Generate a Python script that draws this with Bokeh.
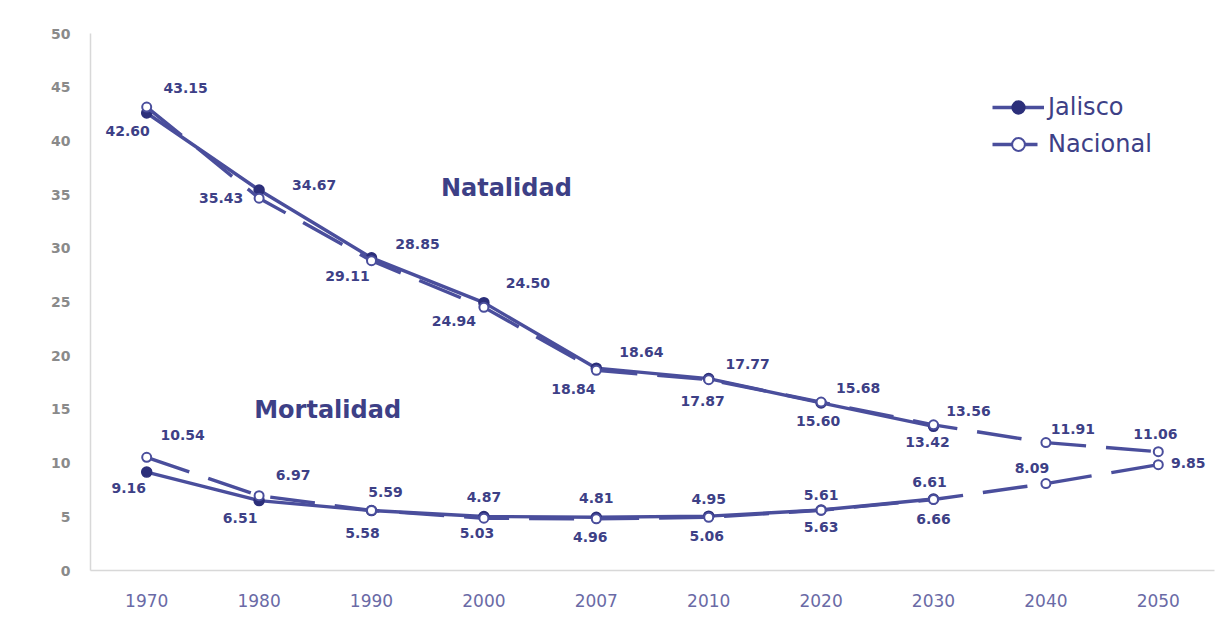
from bokeh.plotting import figure
from bokeh.models import ColumnDataSource, Label, Legend, LegendItem, Range1d, FactorRange
from bokeh.core.properties import value
from bokeh.embed import file_html
from bokeh.resources import INLINE

# ---------------- data ----------------
years = ["1970", "1980", "1990", "2000", "2007", "2010", "2020", "2030", "2040", "2050"]
nat_jalisco = [42.60, 35.43, 29.11, 24.94, 18.84, 17.87, 15.60, 13.42]
nat_nacional = [43.15, 34.67, 28.85, 24.50, 18.64, 17.77, 15.68, 13.56, 11.91, 11.06]
mort_jalisco = [9.16, 6.51, 5.58, 5.03, 4.96, 5.06, 5.63, 6.66]
mort_nacional = [10.54, 6.97, 5.59, 4.87, 4.81, 4.95, 5.61, 6.61, 8.09, 9.85]
series_names = ["Jalisco", "Nacional"]
region_labels = ["Natalidad", "Mortalidad"]

# label placement (screen px offsets)
nat_jal_off = [(-19, 18), (-38, 8), (-24, 18), (-30, 18), (-23, 21), (-6, 22), (-3, 18), (-6, 16)]
nat_nac_off = [(39, -19), (55, -13), (46, -17), (44, -24), (45, -18), (39, -16), (37, -14), (35, -14), (27, -14), (-3, -18)]
mort_jal_off = [(-18, 16), (-19, 17), (-9, 22), (-7, 17), (-6, 20), (-2, 20), (0, 17), (0, 20)]
mort_nac_off = [(36, -22), (34, -21), (14, -18), (0, -21), (0, -21), (0, -18), (0, -15), (-4, -18), (-14, -16), (30, -2)]

LINE = "#4a4e9c"
DARK = "#2c2f7a"
TXT = "#3d4086"

p = figure(x_range=FactorRange(*years), y_range=Range1d(0, 50),
           width=1217, height=618, output_backend="svg", toolbar_location=None,
           min_border_left=90, min_border_right=3, min_border_top=33, min_border_bottom=48)
p.outline_line_color = None
p.xgrid.grid_line_color = None
p.ygrid.grid_line_color = None
p.background_fill_color = "white"
p.border_fill_color = "white"

for ax in (p.xaxis[0], p.yaxis[0]):
    ax.axis_line_color = "#d8d8d8"
    ax.axis_line_width = 1.5
    ax.major_tick_line_color = None
    ax.minor_tick_line_color = None
p.yaxis.ticker = [0, 5, 10, 15, 20, 25, 30, 35, 40, 45, 50]
p.yaxis.major_label_text_font = "DejaVu Sans"
p.yaxis.major_label_text_font_style = "bold"
p.yaxis.major_label_text_font_size = "14px"
p.yaxis.major_label_text_color = "#8a8a8a"
p.yaxis.major_label_standoff = 14
p.xaxis.major_label_text_font = "DejaVu Sans"
p.xaxis.major_label_text_font_size = "17px"
p.xaxis.major_label_text_color = "#6a6aa6"
p.xaxis.major_label_standoff = 17


def draw(vals, dash, filled):
    src = ColumnDataSource(dict(x=years[:len(vals)], y=vals))
    ln = p.line("x", "y", source=src, line_color=LINE, line_width=3.4, line_dash=dash)
    if filled:
        mk = p.scatter("x", "y", source=src, size=10, marker="circle",
                       fill_color=DARK, line_color=DARK, line_width=1.5)
    else:
        mk = p.scatter("x", "y", source=src, size=9, marker="circle",
                       fill_color="white", line_color=LINE, line_width=2)
    return ln, mk


def labels(vals, offs):
    src = ColumnDataSource(dict(x=years[:len(vals)], y=vals,
                                t=["%.2f" % v for v in vals],
                                xo=[o[0] for o in offs], yo=[o[1] for o in offs]))
    p.text("x", "y", text="t", source=src, x_offset="xo", y_offset="yo",
           text_font=value("DejaVu Sans"), text_font_style="bold", text_font_size="14px",
           text_color=TXT, text_align="center", text_baseline="middle")


j1 = draw(nat_jalisco, "solid", True)
j2 = draw(mort_jalisco, "solid", True)
n1 = draw(nat_nacional, "45 20", False)
n2 = draw(mort_nacional, "45 20", False)

labels(nat_jalisco, nat_jal_off)
labels(nat_nacional, nat_nac_off)
labels(mort_jalisco, mort_jal_off)
labels(mort_nacional, mort_nac_off)

p.add_layout(Label(x=3.70, y=35.6, text=region_labels[0], text_font="DejaVu Sans",
                   text_font_style="bold", text_font_size="24px", text_color=TXT,
                   text_align="center", text_baseline="middle"))
p.add_layout(Label(x=2.11, y=14.9, text=region_labels[1], text_font="DejaVu Sans",
                   text_font_style="bold", text_font_size="24px", text_color=TXT,
                   text_align="center", text_baseline="middle"))

legend = Legend(items=[LegendItem(label=series_names[0], renderers=[j1[0], j1[1]]),
                       LegendItem(label=series_names[1], renderers=[n1[0], n1[1]])],
                location=(902, 410), padding=5, margin=0, spacing=5,
                glyph_width=52, glyph_height=32, label_height=32, label_standoff=4,
                label_text_font="DejaVu Sans", label_text_font_size="24px",
                label_text_color=TXT, border_line_color=None, background_fill_alpha=0)
p.add_layout(legend)

open("out.html", "w").write(file_html(p, INLINE))
